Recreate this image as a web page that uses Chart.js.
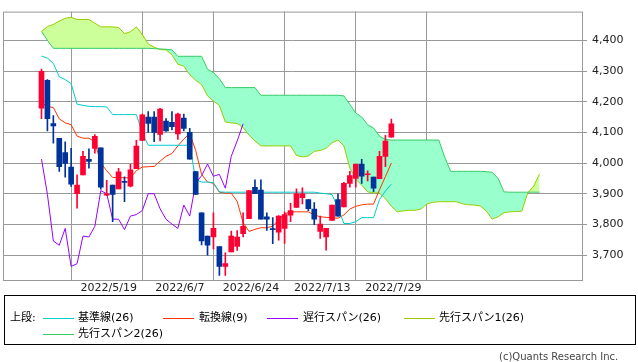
<!DOCTYPE html>
<html><head><meta charset="utf-8">
<script src="https://cdn.jsdelivr.net/npm/chart.js@4/dist/chart.umd.min.js"></script>
<style>
html,body{margin:0;padding:0;background:#fff;width:638px;height:362px;overflow:hidden;position:relative;}
#wrap{position:absolute;left:0;top:0;width:638px;height:296px;}
.t{position:absolute;font:11px "DejaVu Sans","Noto Sans CJK JP",sans-serif;line-height:14px;white-space:nowrap;color:#000;}
.ln{position:absolute;height:1px;display:block;}
</style></head><body>
<div id="wrap"><canvas id="c" width="638" height="296"></canvas></div>
<div style="position:absolute;left:4px;top:295px;width:630px;height:48px;border:1px solid #000;"></div>
<span class="t" style="left:10px;top:311px">上段:</span>
<i class="ln" style="left:43px;top:318px;width:31px;background:#00CCCC"></i>
<span class="t" style="left:78px;top:311px">基準線(26)</span>
<i class="ln" style="left:163px;top:318px;width:31px;background:#FF3300"></i>
<span class="t" style="left:199px;top:311px">転換線(9)</span>
<i class="ln" style="left:267px;top:318px;width:31px;background:#9900FF"></i>
<span class="t" style="left:303px;top:311px">遅行スパン(26)</span>
<i class="ln" style="left:404px;top:318px;width:31px;background:#99CC00"></i>
<span class="t" style="left:439px;top:311px">先行スパン1(26)</span>
<i class="ln" style="left:43px;top:334px;width:31px;background:#33CC66"></i>
<span class="t" style="left:78px;top:327px">先行スパン2(26)</span>
<span class="t" style="left:499px;top:350px;font-size:10px;color:#444">(c)Quants Research Inc.</span>
<script>
const tickIndex = [11, 23, 35, 47, 59];
const tickLabels = ['2022/5/19', '2022/6/7', '2022/6/24', '2022/7/13', '2022/7/29'];
const yTicks = [3700, 3800, 3900, 4000, 4100, 4200, 4300, 4400];

const opens  = [4179,4270,4129,4081,4034,3987,3900,3961,4012,4048,4050,3895,3928,3916,3940,3925,3982,4074,4150,4150,4093,4137,4133,4095,4147,4100,3972,3838,3762,3759,3728,3663,3710,3728,3770,3819,3921,3912,3825,3785,3775,3787,3830,3855,3887,3881,3850,3777,3759,3813,3881,3857,3934,3950,3997,3962,3954,3949,4022,4084];
const highs  = [4306,4272,4155,4081,4069,4048,3962,4038,4046,4093,4050,3944,3928,3983,3955,3996,4074,4160,4168,4168,4178,4145,4168,4163,4160,4113,3972,3838,3762,3838,3728,3707,3778,3780,3838,3910,3945,3945,3838,3822,3829,3840,3869,3916,3919,3881,3871,3827,3787,3863,3900,3937,3973,3997,4012,3975,3954,4038,4090,4143];
const lows   = [4145,4105,4065,3973,3954,3924,3853,3961,3983,4032,3915,3894,3809,3916,3874,3922,3982,4074,4100,4070,4072,4103,4108,4077,4105,4013,3898,3733,3700,3720,3634,3634,3710,3715,3759,3819,3900,3817,3780,3737,3749,3738,3809,3855,3867,3845,3799,3754,3716,3813,3827,3857,3921,3921,3934,3942,3907,3949,3988,4084];
const closes = [4299,4145,4121,3988,3999,3931,3928,4022,4005,4087,3921,3900,3898,3971,3937,3978,4055,4157,4129,4100,4176,4105,4119,4160,4113,4013,3898,3746,3732,3787,3663,3672,3762,3759,3794,3910,3900,3817,3817,3783,3827,3832,3845,3900,3900,3851,3817,3801,3787,3863,3827,3934,3959,3997,3957,3963,3918,4022,4072,4128];

const kijun  = [4349,4342,4325,4281,4272,4259,4192,4188,4185,4184,4184,4183,4158,4158,4158,4158,4158,4098,4058,4058,4058,4058,4058,4058,4058,4058,3947,3938,3938,3936,3906,3905,3905,3905,3905,3905,3905,3905,3905,3905,3905,3905,3905,3905,3905,3905,3905,3902,3900,3897,3853,3803,3803,3809,3822,3822,3822,3881,3909,3931];
const tenkan = [4197,4184,4181,4144,4131,4125,4088,4081,4081,4069,4000,3975,3953,3953,3952,3952,3975,3987,3988,3989,4006,4022,4031,4056,4078,4097,4041,3963,3938,3934,3905,3902,3902,3875,3806,3777,3784,3789,3789,3794,3816,3834,3841,3841,3841,3841,3831,3825,3823,3822,3820,3831,3850,3859,3864,3866,3866,3913,3956,4000];
const chikou = [4013,3898,3746,3732,3787,3663,3672,3762,3759,3794,3910,3900,3817,3817,3783,3827,3832,3845,3900,3900,3851,3817,3801,3787,3863,3827,3934,3959,3997,3957,3963,3918,4022,4072,4128];
const senkou1 = [4429,4445,4452,4463,4472,4475,4468,4468,4468,4456,4444,4444,4444,4442,4422,4428,4444,4419,4388,4378,4370,4369,4353,4322,4316,4288,4270,4256,4219,4202,4188,4134,4131,4129,4116,4091,4072,4056,4056,4056,4056,4056,4056,4025,4020,4023,4038,4041,4048,4066,4075,4056,3984,3947,3928,3906,3903,3902,3884,3859,3841,3844,3846,3846,3850,3867,3872,3874,3874,3874,3874,3867,3864,3863,3860,3844,3817,3825,3838,3841,3842,3843,3903,3925,3965];
const senkou2 = [4429,4400,4374,4374,4374,4374,4374,4374,4374,4374,4374,4374,4374,4374,4374,4374,4374,4374,4374,4373,4372,4371,4369,4348,4348,4348,4348,4348,4306,4295,4275,4246,4246,4246,4246,4246,4246,4221,4221,4221,4221,4221,4221,4221,4221,4221,4221,4221,4221,4221,4221,4219,4191,4163,4150,4125,4114,4088,4077,4075,4075,4075,4075,4075,4075,4075,4075,4075,4019,3973,3973,3973,3973,3973,3973,3972,3970,3950,3906,3905,3905,3905,3905,3905,3905];

const RED = '#FF0033', BLUE = '#003399';
const pts = arr => arr.map((v, i) => ({x: i, y: v}));
const candleColor = ctx => (closes[ctx.dataIndex] >= opens[ctx.dataIndex] ? RED : BLUE);
const lineDs = (label, arr, color, order) => ({type: 'line', label, data: pts(arr), borderColor: color, borderWidth: 1, pointRadius: 0, tension: 0, fill: false, order});

const frame = {
  id: 'frame',
  afterDraw(c) {
    const {ctx, chartArea: a} = c;
    ctx.save();
    ctx.strokeStyle = '#999999';
    ctx.lineWidth = 1;
    ctx.strokeRect(a.left + 0.5, a.top + 0.5, a.right - a.left, a.bottom - a.top);
    ctx.restore();
  }
};

new Chart(document.getElementById('c'), {
  type: 'line',
  data: {
    datasets: [
      {type: 'line', label: '先行スパン1(26)', data: pts(senkou1), borderColor: '#99CC00', borderWidth: 1, pointRadius: 0, tension: 0,
       fill: {target: '+1', above: '#CCFF99', below: '#99FFCC'}, order: 6},
      lineDs('先行スパン2(26)', senkou2, '#33CC66', 5),
      lineDs('基準線(26)', kijun, '#00CCCC', 3),
      lineDs('転換線(9)', tenkan, '#FF3300', 3),
      lineDs('遅行スパン(26)', chikou, '#9900FF', 3),
      {type: 'bar', label: 'wick', data: highs.map((h, i) => ({x: i, y: [lows[i], h]})),
       backgroundColor: candleColor, barThickness: 1, grouped: false, borderWidth: 0, minBarLength: 1, order: 1},
      {type: 'bar', label: 'body', data: opens.map((o, i) => ({x: i, y: [o, closes[i]]})),
       backgroundColor: candleColor, barThickness: 5, grouped: false, borderWidth: 0, minBarLength: 1, order: 0}
    ]
  },
  options: {
    responsive: false,
    animation: false,
    devicePixelRatio: 1,
    layout: {padding: {left: 3, top: 0, right: 0, bottom: 0}},
    plugins: {legend: {display: false}, tooltip: {enabled: false}},
    scales: {
      x: {
        type: 'linear', min: -6.49, max: 91.15, offset: false,
        afterBuildTicks: s => { s.ticks = tickIndex.map(v => ({value: v})); },
        afterFit: s => { s.height = 16; },
        grid: {color: '#999999', lineWidth: 1, drawTicks: false},
        border: {display: false},
        ticks: {autoSkip: false, maxRotation: 0, padding: 2, labelOffset: 2, color: '#222',
                font: {family: 'DejaVu Sans', size: 11},
                callback: (v, i) => tickLabels[i]}
      },
      y: {
        type: 'linear', position: 'right', min: 3618.75, max: 4493.75,
        afterBuildTicks: s => { s.ticks = yTicks.map(v => ({value: v})); },
        afterFit: s => { s.width = 56; },
        grid: {color: '#999999', lineWidth: 1, drawTicks: true, tickLength: 5},
        border: {display: false},
        ticks: {padding: 5, color: '#222', font: {family: 'DejaVu Sans', size: 11},
                callback: v => v.toLocaleString('en-US')}
      }
    }
  },
  plugins: [frame]
});
</script>
</body></html>
